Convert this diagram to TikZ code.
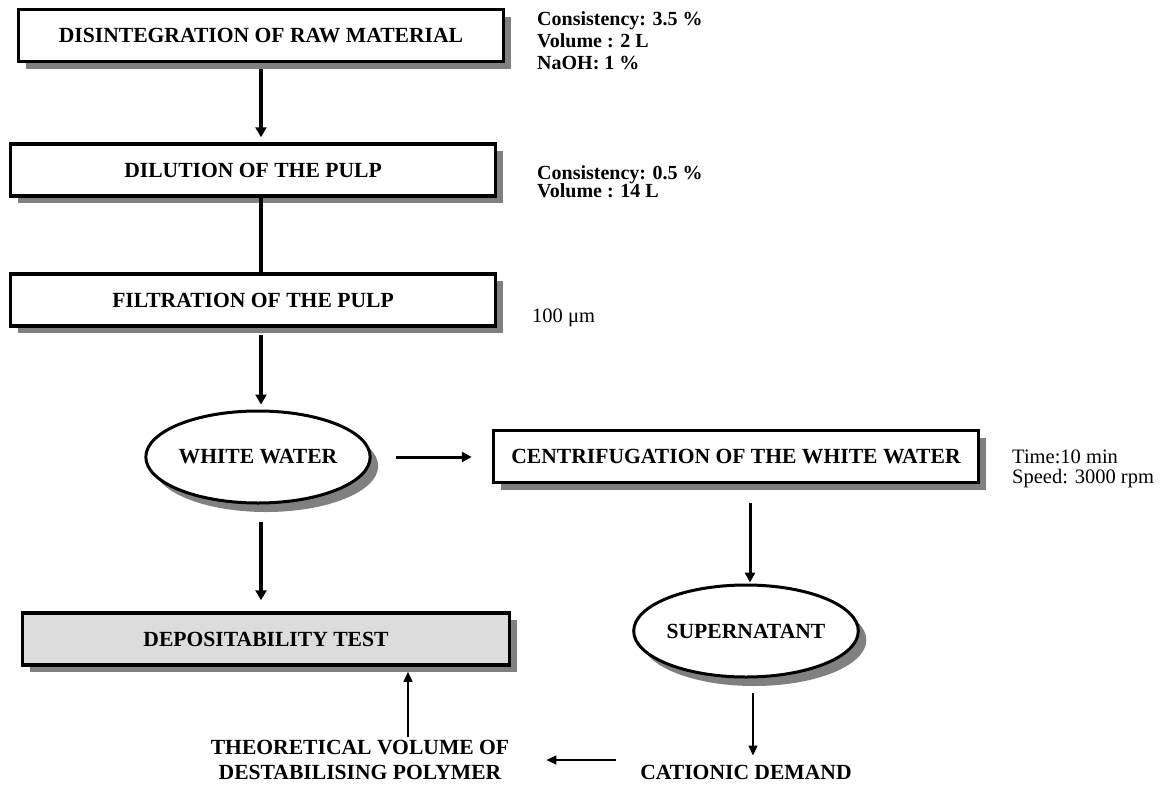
\documentclass[tikz,border=0pt]{standalone}
\usepackage{fontspec}
\setmainfont{Liberation Serif}
\usetikzlibrary{shapes.geometric,arrows.meta,shadows}
\definecolor{shgray}{HTML}{808080}
\definecolor{depfill}{HTML}{DCDCDC}
\begin{document}
\begin{tikzpicture}[x=1pt,y=-1pt,
  bigfont/.style={font=\fontsize{21.6}{24.5}\selectfont\bfseries},
  box/.style={draw,line width=3.5pt,fill=white,minimum width=485pt,minimum height=52pt,inner sep=0pt,bigfont,
    drop shadow={shadow xshift=7pt,shadow yshift=-7pt,fill=shgray,opacity=1}},
  oval/.style={ellipse,draw,line width=3pt,fill=white,inner sep=0pt,bigfont,
    drop shadow={shadow xshift=8pt,shadow yshift=-9pt,fill=shgray,opacity=1}},
  lbl/.style={bigfont,align=center,inner sep=3pt},
  sideb/.style={font=\fontsize{20}{22}\selectfont\bfseries,anchor=base west,inner sep=0pt},
  sider/.style={font=\fontsize{20.5}{22}\selectfont,anchor=base west,inner sep=0pt},
  thickarrow/.style={line width=4pt,-{Triangle[length=10pt,width=11pt]}},
  thickline/.style={line width=4pt},
  medarrow/.style={line width=3pt,-{Triangle[length=10pt,width=10pt]}},
  thinarrow/.style={line width=1.3pt,-{Triangle[length=10pt,width=9pt]}}]
\useasboundingbox (0,0) rectangle (1169,790);

% boxes
\node[box] (b1) at (261,35.5) {DISINTEGRATION OF RAW MATERIAL};
\node[box] (b2) at (253,170) {DILUTION OF THE PULP};
\node[box] (b3) at (253,300) {FILTRATION OF THE PULP};
\node[oval,minimum width=214pt,minimum height=92pt] (ww) at (258,457) {WHITE WATER};
\node[box] (cf) at (736,456.5) {CENTRIFUGATION OF THE WHITE WATER};
\node[oval,minimum width=218pt,minimum height=92pt] (sup) at (746,631) {SUPERNATANT};
\node[box,fill=depfill,minimum width=487pt] (dep) at (266,639) {DEPOSITABILITY TEST};
\node[lbl] (theo) at (360,760) {THEORETICAL VOLUME OF\\DESTABILISING POLYMER};
\node[lbl,inner sep=0pt] (cat) at (746,772) {CATIONIC DEMAND};

% side notes
\node[sideb] (n1) at (537,25) {Consistency: 3.5 \%};
\node[sideb] (n2) at (537,47) {Volume : 2 L};
\node[sideb] (n3) at (537,69) {NaOH: 1 \%};
\node[sideb] (n4) at (537,179) {Consistency: 0.5 \%};
\node[sideb] (n5) at (537,197) {Volume : 14 L};
\node[sider] (n6) at (532,322) {100 μm};
\node[sider] (n7) at (1012,463) {Time:10 min};
\node[sider] (n8) at (1012,483) {Speed: 3000 rpm};

% connectors
\draw[thickarrow,shorten <=6pt,shorten >=5pt] (b1.south) -- (b2.north -| b1.south);
\draw[thickline] (b2.south -| b1.south) -- (b3.north -| b1.south);
\draw[thickarrow,shorten <=7pt,shorten >=5pt] (b3.south -| b1.south) -- (ww.north -| b1.south);
\draw[medarrow,shorten <=24pt,shorten >=20pt] (ww.east) -- (cf.west |- ww.east);
\draw[thickarrow,shorten <=17pt,shorten >=11pt] (ww.south -| b1.south) -- (dep.north -| b1.south);
\path ([xshift=4pt]sup.north) coordinate (c6);
\draw[medarrow,shorten <=19pt,shorten >=1pt] (c6 |- cf.south) -- (c6);
\path ([xshift=7pt]sup.south) coordinate (c7);
\draw[thinarrow,shorten <=14pt,shorten >=9pt] (c7) -- (c7 |- cat.north);
\draw[thinarrow,shorten <=24pt,shorten >=34pt] (cat.west |- theo.east) -- (theo.east);
\path ([xshift=48pt]theo.north) coordinate (c9);
\draw[thinarrow,shorten <=0pt,shorten >=5pt] (c9) -- (c9 |- dep.south);
\end{tikzpicture}
\end{document}
